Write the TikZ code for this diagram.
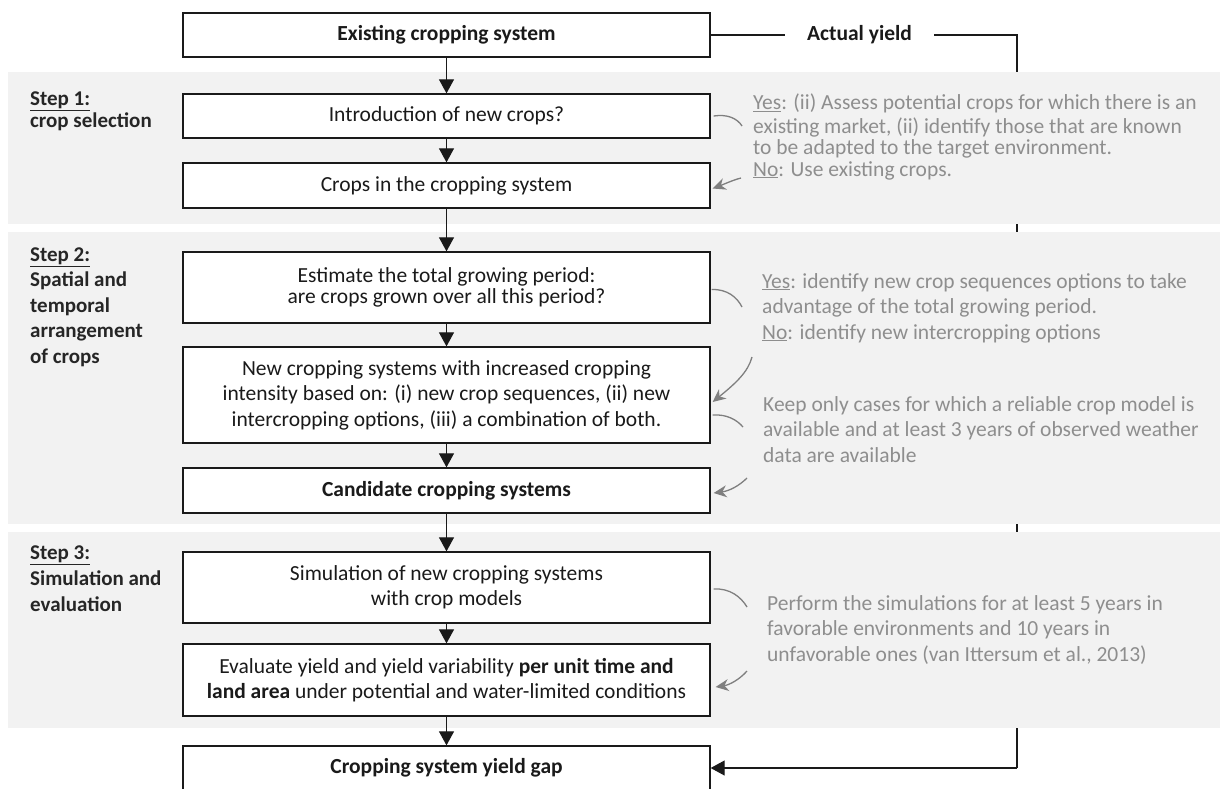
\documentclass[tikz,border=0pt]{standalone}
\usepackage{fontspec}
\setmainfont{Carlito}
\usetikzlibrary{arrows.meta}
\pgfdeclarelayer{loop}
\pgfdeclarelayer{bands}
\pgfsetlayers{loop,bands,main}
\definecolor{bandgray}{HTML}{F2F2F2}
\definecolor{notegray}{HTML}{8E8E8E}
\definecolor{pointergray}{HTML}{7F7F7F}
\definecolor{ink}{HTML}{1A1A1A}
\definecolor{labelink}{HTML}{262626}
\begin{document}
\begin{tikzpicture}[x=1pt,y=-1pt,
  font=\fontsize{21.5}{25.5}\selectfont,
  stepbox/.style={draw=ink, line width=1.3pt, fill=white, minimum width=527pt, inner sep=2pt, align=center, text=ink},
  boldbox/.style={stepbox, font=\fontsize{21.5}{25.5}\selectfont\bfseries},
  flow/.style={draw=ink, line width=1.1pt, -{Triangle[length=14pt,width=15pt]}},
  plainline/.style={draw=ink, line width=1.1pt},
  bandbg/.style={fill=bandgray, draw=none},
  notetext/.style={text=notegray, align=left, anchor=north west, inner sep=0pt},
  steplabel/.style={text=labelink, align=left, anchor=north west, inner sep=0pt},
  pointer/.style={draw=pointergray, line width=1.3pt},
  pointerarrow/.style={pointer, -{Stealth[length=13pt,width=12pt]}}
]
\useasboundingbox (0,0) rectangle (1223,788);
\clip (0,0) rectangle (1223,788);

% grey step bands
\begin{pgfonlayer}{bands}
  \fill[bandgray] (8,72) rectangle (1220,224);
  \fill[bandgray] (8,232) rectangle (1220,524);
  \fill[bandgray] (8,532) rectangle (1220,728);
\end{pgfonlayer}

% flow boxes
\node[boldbox, minimum height=44pt] (b1) at (446.5,35) {Existing cropping system};
\node[stepbox, minimum height=44pt] (b2) at (446.5,116) {Introduction of new crops?};
\node[stepbox, minimum height=45pt] (b3) at (446.5,185.5) {Crops in the cropping system};
\node[stepbox, minimum height=71pt, font=\fontsize{21.5}{21}\selectfont] (b4) at (446.5,287.5) {Estimate the total growing period:\\are crops grown over all this period?};
\node[stepbox, minimum height=96pt] (b5) at (446.5,395) {New cropping systems with increased cropping\\intensity based on: (i) new crop sequences, (ii) new\\intercropping options, (iii) a combination of both.};
\node[boldbox, minimum height=45pt] (b6) at (446.5,490.5) {Candidate cropping systems};
\node[stepbox, minimum height=71pt] (b7) at (446.5,587.5) {Simulation of new cropping systems\\with crop models};
\node[stepbox, minimum height=72pt] (b8) at (446.5,680) {Evaluate yield and yield variability \textbf{per unit time and}\\\textbf{land area} under potential and water-limited conditions};
\node[boldbox, minimum height=44pt] (b9) at (446.5,768) {Cropping system yield gap};

% actual yield loop
\node[font=\fontsize{21.5}{25.5}\selectfont\bfseries, text=ink, inner xsep=22pt, inner ysep=0pt] (ay) at (859.5,35) {Actual yield};
\coordinate (yc) at (1017,35);
\draw[plainline] (b1.east) -- (ay.west);
\begin{pgfonlayer}{loop}
  \draw[plainline] (ay.east) -- (yc) -- (yc |- b9.east);
\end{pgfonlayer}
\draw[flow] (yc |- b9.east) -- (b9.east);

% main flow
\draw[flow] (b1) -- (b2);
\draw[flow] (b2) -- (b3);
\draw[flow] (b3) -- (b4);
\draw[flow] (b4) -- (b5);
\draw[flow] (b5) -- (b6);
\draw[flow] (b6) -- (b7);
\draw[flow] (b7) -- (b8);
\draw[flow] (b8) -- (b9);

% step labels
\node[steplabel, font=\fontsize{21}{21}\selectfont\bfseries] (s1) at (30,91) {\strut\underline{Step 1:}\\crop selection};
\node[steplabel, font=\fontsize{21}{25.5}\selectfont\bfseries] (s2) at (30,243) {\strut\underline{Step 2:}\\Spatial and\\temporal\\arrangement\\of crops};
\node[steplabel, font=\fontsize{21}{26}\selectfont\bfseries] (s3) at (30,541) {\strut\underline{Step 3:}\\Simulation and\\evaluation};

% notes
\node[notetext, font=\fontsize{21.5}{21.5}\selectfont] (n1) at (753,94) {\strut\underline{Yes}: (ii) Assess potential crops for which there is an\\existing market, (ii) identify those that are known\\to be adapted to the target environment.\\\underline{No}: Use existing crops.};
\node[notetext] (n2) at (762,270) {\strut\underline{Yes}: identify new crop sequences options to take\\advantage of the total growing period.\\\underline{No}: identify new intercropping options};
\node[notetext] (n3) at (763,393) {\strut Keep only cases for which a reliable crop model is\\available and at least 3 years of observed weather\\data are available};
\node[notetext] (n4) at (767,592) {\strut Perform the simulations for at least 5 years in\\favorable environments and 10 years in\\unfavorable ones (van Ittersum et al., 2013)};

% pointers
\coordinate (c1) at (742,126);
\draw[pointer] ([xshift=3pt]b2.east) .. controls (727,114) and (737,118) .. (c1);
\coordinate (c2) at (741,178);
\draw[pointerarrow] (c2) .. controls (733,180) and (722,185) .. ([xshift=2pt,yshift=-3pt]b3.east);
\coordinate (c3) at (742,307);
\draw[pointer] ([xshift=1pt,yshift=-2pt]b4.east) .. controls (727,289) and (737,297) .. (c3);
\coordinate (c4) at (752,357);
\draw[pointerarrow] (c4) .. controls (748,372) and (736,383) .. ([xshift=2pt,yshift=-7pt]b5.east);
\coordinate (c5) at (743,427);
\draw[pointer] ([xshift=2pt,yshift=-20pt]b5.east) .. controls (727,414) and (737,420) .. (c5);
\coordinate (c6) at (747,478);
\draw[pointerarrow] (c6) .. controls (739,486) and (729,491) .. ([xshift=3pt,yshift=-2.5pt]b6.east);
\coordinate (c7) at (747,607);
\draw[pointer] ([xshift=3pt,yshift=-1.5pt]b7.east) .. controls (730,588) and (741,597) .. (c7);
\coordinate (c8) at (747,671);
\draw[pointerarrow] (c8) .. controls (739,680) and (729,685) .. ([xshift=5pt,yshift=-7pt]b8.east);
\end{tikzpicture}
\end{document}
